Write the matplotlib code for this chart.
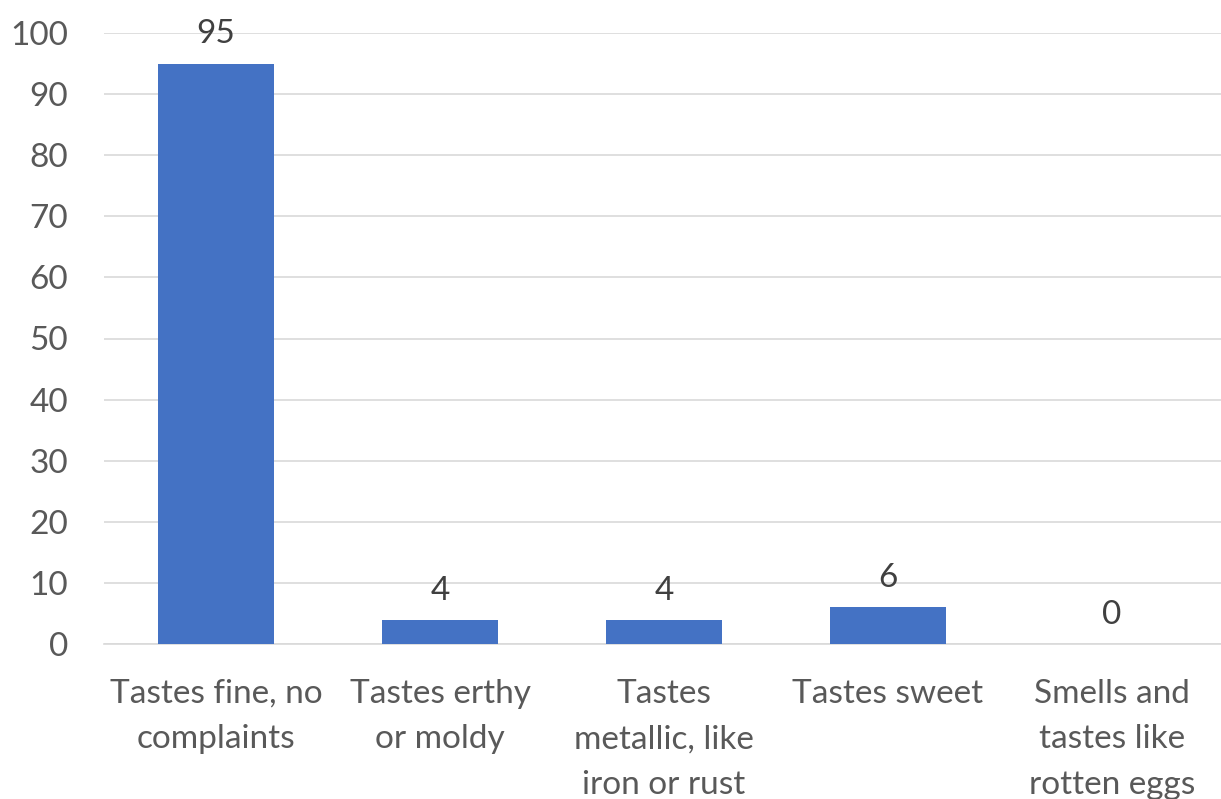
import matplotlib.pyplot as plt

categories = ["Tastes fine, no\ncomplaints", "Tastes erthy\nor moldy", "Tastes\nmetallic, like\niron or rust",
              "Tastes sweet", "Smells and\ntastes like\nrotten eggs"]
values = [95, 4, 4, 6, 0]

plt.rcParams['font.family'] = ['Lato', 'DejaVu Sans']

fig = plt.figure(figsize=(12.21, 7.99), dpi=100)
ax = fig.add_axes([104 / 1221, 155 / 799, 1120 / 1221, 611 / 799])

x = range(len(categories))
bars = ax.bar(x, values, width=0.52, color='#4472C4', zorder=3)
for xi, v in zip(x, values):
    ax.text(xi, v + 2.3, str(v), ha='center', va='bottom', fontsize=24, color='#404040')

ax.set_xlim(-0.5, len(categories) - 0.5)
ax.set_ylim(0, 100)
ax.set_yticks(range(0, 101, 10))
ax.yaxis.grid(True, color='#D9D9D9', linewidth=1.2, zorder=0)
ax.set_xticks(list(x))
ax.set_xticklabels(categories, fontsize=24, color='#595959', linespacing=1.65)
ax.tick_params(axis='y', labelsize=24, labelcolor='#595959', length=0, pad=26)
ax.tick_params(axis='x', length=0, pad=25)
for s in ['top', 'right', 'left']:
    ax.spines[s].set_visible(False)
ax.spines['bottom'].set_color('#D9D9D9')
ax.spines['bottom'].set_linewidth(1.2)

fig.savefig('out.png', dpi=100)
